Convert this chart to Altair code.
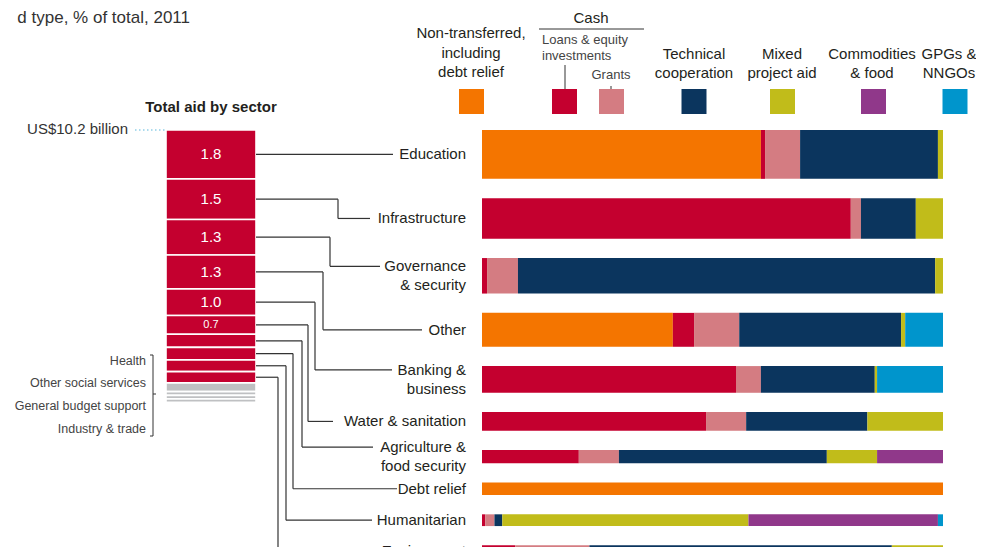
import altair as alt
import pandas as pd

# ---------------- data ----------------
title_text = "d type, % of total, 2011"
stack_title = "Total aid by sector"
total_label = "US$10.2 billion"
total_bn = 10.2

sectors = ["Education", "Infrastructure", "Governance\n& security", "Other",
           "Banking &\nbusiness", "Water & sanitation", "Agriculture &\nfood security",
           "Debt relief", "Humanitarian", "Environment"]
sector_bn = [1.83, 1.52, 1.33, 1.27, 1.0, 0.7, 0.49, 0.47, 0.44, 0.42]
minor_sectors = ["Health", "Other social services", "General budget support", "Industry & trade"]
minor_bn = [0.33, 0.14, 0.13, 0.13]

aid_types = ["Non-transferred, including debt relief", "Loans & equity investments", "Grants",
             "Technical cooperation", "Mixed project aid", "Commodities & food", "GPGs & NNGOs"]
nontransferred = [60.5, 0, 0, 41.4, 0, 0, 0, 100, 0, 0]
loans = [0.9, 80.0, 1.1, 4.6, 55.1, 48.6, 21.0, 0, 0.7, 7.2]
grants = [7.6, 2.2, 6.7, 9.8, 5.4, 8.7, 8.7, 0, 2.0, 16.1]
technical = [29.9, 11.9, 90.5, 35.1, 24.7, 26.3, 45.1, 0, 1.7, 65.6]
mixed = [1.1, 5.9, 1.7, 0.9, 0.5, 16.4, 10.9, 0, 53.4, 11.1]
commodities = [0, 0, 0, 0, 0, 0, 14.3, 0, 41.1, 0]
gpgs = [0, 0, 0, 8.2, 14.3, 0, 0, 0, 1.1, 0]

legend_top_labels = ["Technical\ncooperation", "Mixed\nproject aid", "Commodities\n& food", "GPGs &\nNNGOs"]

# ---------------- style / layout ----------------
colors = ["#F47500", "#C4002F", "#D47C82", "#0B355E", "#C1BC1A", "#90388A", "#0095CC"]
RED, GREY = "#C4002F", "#BFC0C2"
FONT = "Liberation Sans"
TXT = "#231f20"
W, H = 968, 539
PX_PER_BN = 26.7
Y0 = 122
GAP_BN = 0.723
STACK_X0, STACK_X1 = 158, 248
LABEL_RIGHT = 458
LINE_H = 19
elbow_x = [385, 330, 322, 315, 307, 300, 294, 285, 278, 270]
line_end_x = [385, 362, 372, 414, 384, 325, 365, 389, 364, 372]
legend_cx = [463.5, 556.5, 603.5, 686, 774.5, 865.5, 947]
legend_label_cx = [686, 774, 864, 941]
minor_label_y = [353, 375, 398, 421]

yscale = alt.Scale(domain=[0, total_bn], range=[Y0, Y0 + total_bn * PX_PER_BN], nice=False, zero=False)
xscale = alt.Scale(domain=[0, 100], range=[474, 935], nice=False)
cscale = alt.Scale(domain=aid_types, range=colors)

# ---------------- derived tables ----------------
series = [nontransferred, loans, grants, technical, mixed, commodities, gpgs]
rows = []
cum = 0.0
sec_rows = []
for i, (s, v) in enumerate(zip(sectors, sector_bn)):
    top_r = cum + i * GAP_BN
    bot_r = top_r + v
    mid_r = (top_r + bot_r) / 2
    nlines = s.count("\n") + 1
    conn = mid_r - (nlines - 1) * 0.5 * LINE_H / PX_PER_BN
    sec_rows.append(dict(label=s, mid_l=cum + v / 2, mid_r=mid_r, conn=conn,
                         xs=STACK_X1, elbow=elbow_x[i], xe=line_end_x[i]))
    for k, t in enumerate(aid_types):
        p = series[k][i]
        if p > 0:
            rows.append(dict(sector=s, k=k, type=t, pct=p, top=top_r, bot=bot_r))
    cum += v
bars_df = pd.DataFrame(rows)
sec_df = pd.DataFrame(sec_rows)

left_df = pd.DataFrame(dict(
    name=sectors + minor_sectors,
    bn=sector_bn + minor_bn,
    grp=["main"] * len(sectors) + ["minor"] * len(minor_sectors),
    k=list(range(len(sectors) + len(minor_sectors))),
))

leg_df = pd.DataFrame(dict(type=aid_types, cx=legend_cx))
leg_df["x0"] = leg_df["cx"] - 12.5
leg_df["x1"] = leg_df["cx"] + 12.5
leg_top_df = pd.DataFrame(dict(label=legend_top_labels, cx=legend_label_cx))
minor_df = pd.DataFrame(dict(label=minor_sectors, ly=minor_label_y))

deco_df = pd.DataFrame(dict(
    x=[531, 557, 603, 145, 142, 142, 145],
    x2=[636, 557, 603, 145, 145, 145, 148],
    y=[21, 57, 78, 347, 347, 428, 386],
    y2=[21, 81, 81, 428, 347, 428, 386],
))

# ---------------- layers ----------------
bars = alt.Chart(bars_df).transform_stack(
    stack="pct", groupby=["sector"], as_=["x0", "x1"], sort=[alt.SortField("k", order="ascending")]
).mark_rect().encode(
    x=alt.X("x0:Q", scale=xscale, axis=None),
    x2="x1:Q",
    y=alt.Y("top:Q", scale=yscale, axis=None),
    y2="bot:Q",
    color=alt.Color("type:N", scale=cscale, legend=None),
)

left_base = alt.Chart(left_df).transform_calculate(grp_all="1").transform_stack(
    stack="bn", groupby=["grp_all"], as_=["y0", "y1"], sort=[alt.SortField("k", order="ascending")]
)

left_stack = left_base.mark_rect(stroke="white", strokeWidth=1.6).encode(
    x=alt.value(STACK_X0), x2=alt.value(STACK_X1),
    y=alt.Y("y0:Q", scale=yscale, axis=None), y2="y1:Q",
    color=alt.condition("datum.grp == 'main'", alt.value(RED), alt.value(GREY)),
)

left_nums = left_base.transform_filter("datum.bn >= 0.65").transform_calculate(
    ym="(datum.y0 + datum.y1) / 2"
).mark_text(color="white", font=FONT, baseline="middle", align="center").encode(
    x=alt.value((STACK_X0 + STACK_X1) / 2),
    y=alt.Y("ym:Q", scale=yscale, axis=None),
    text=alt.Text("bn:Q", format=".1f"),
    size=alt.condition("datum.bn >= 0.95", alt.value(15), alt.value(11)),
)

right_labels = alt.Chart(sec_df).mark_text(
    align="right", baseline="middle", lineBreak="\n", fontSize=15, font=FONT, color=TXT, lineHeight=LINE_H
).encode(
    x=alt.value(LABEL_RIGHT),
    y=alt.Y("conn:Q", scale=yscale, axis=None),
    text="label:N",
)

rule_style = dict(color="#333333", strokeWidth=1.2)
seg1 = alt.Chart(sec_df).mark_rule(**rule_style).encode(
    x=alt.X("xs:Q", scale=None), x2="elbow:Q", y=alt.Y("mid_l:Q", scale=yscale, axis=None))
seg2 = alt.Chart(sec_df).mark_rule(**rule_style).encode(
    x=alt.X("elbow:Q", scale=None), y=alt.Y("mid_l:Q", scale=yscale, axis=None), y2="conn:Q")
seg3 = alt.Chart(sec_df).mark_rule(**rule_style).encode(
    x=alt.X("elbow:Q", scale=None), x2="xe:Q", y=alt.Y("conn:Q", scale=yscale, axis=None))

deco = alt.Chart(deco_df).mark_rule(color="#333333", strokeWidth=1).encode(
    x=alt.X("x:Q", scale=None), x2="x2:Q", y=alt.Y("y:Q", scale=None), y2="y2:Q")

dotted = alt.Chart(pd.DataFrame({"a": [0]})).mark_rule(
    color="#5BB8DC", strokeWidth=1.2, strokeDash=[1.5, 2.5]
).encode(x=alt.value(127), x2=alt.value(157), y=alt.value(122))

leg_sq = alt.Chart(leg_df).mark_rect().encode(
    x=alt.X("x0:Q", scale=None), x2="x1:Q",
    y=alt.value(81), y2=alt.value(106),
    color=alt.Color("type:N", scale=cscale, legend=None),
)

leg_top = alt.Chart(leg_top_df).mark_text(
    align="center", baseline="middle", lineBreak="\n", fontSize=15, font=FONT, color=TXT, lineHeight=LINE_H
).encode(x=alt.X("cx:Q", scale=None), y=alt.value(46), text="label:N")

one = pd.DataFrame({"a": [0]})


def txt(text, x, y, align="center", size=15, color=TXT, weight="normal", lh=LINE_H):
    return alt.Chart(one).mark_text(
        align=align, baseline="middle", fontSize=size, font=FONT, color=color,
        fontWeight=weight, lineHeight=lh
    ).encode(x=alt.value(x), y=alt.value(y), text=alt.value(text))


texts = [
    txt(title_text, 182, 9.5, align="right", size=17, color="#333333"),
    txt(stack_title, 203, 99, size=15, weight="bold"),
    txt(total_label, 120, 121, align="right", size=15, color="#333333"),
    txt(["Non-transferred,", "including", "debt relief"], 463, 25, lh=19.5),
    txt("Cash", 583, 9.5),
    txt(["Loans & equity", "investments"], 534, 32, align="left", size=13, color="#444444", lh=15.5),
    txt("Grants", 603, 67, size=13, color="#444444"),
]

minor_labels = alt.Chart(minor_df).mark_text(
    align="right", baseline="middle", fontSize=12.5, font=FONT, color="#444444"
).encode(x=alt.value(138), y=alt.Y("ly:Q", scale=None), text="label:N")

chart = alt.layer(
    bars, left_stack, left_nums, seg1, seg2, seg3, right_labels, deco, dotted,
    leg_sq, leg_top, minor_labels, *texts
).properties(
    width=W, height=H, padding=0, autosize=alt.AutoSizeParams(type="none")
).configure_view(stroke=None)

chart.save("out.html", embed_options={"renderer": "svg", "actions": False})
